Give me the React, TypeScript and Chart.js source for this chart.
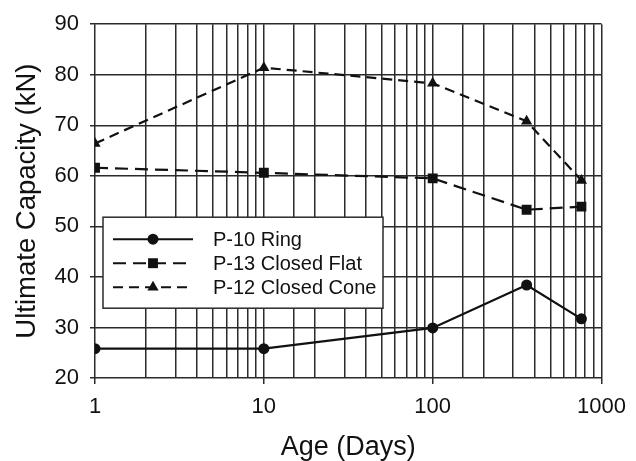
import React, { useEffect, useRef } from "react";
import { Chart, registerables } from "chart.js";

Chart.register(...registerables);

const days = [1, 10, 100, 360, 760];
const ringValues = [25.8, 25.8, 29.9, 38.4, 31.7];
const closedFlatValues = [61.6, 60.6, 59.5, 53.3, 53.9];
const closedConeValues = [66.4, 81.4, 78.3, 70.8, 59.1];
const seriesLabels = ["P-10 Ring", "P-13 Closed Flat", "P-12 Closed Cone"];
const xTitle = "Age (Days)";
const yTitle = "Ultimate Capacity (kN)";

const FONT = "'Liberation Sans', Arial, Helvetica, sans-serif";
const INK = "#111111";
const GRID = "#2b2b2b";

const styles = [
  { dash: [] as number[], point: "circle", radius: 5.5 },
  { dash: [13, 7], point: "rect", radius: 7 },
  { dash: [10, 6], point: "triangle", radius: 6.5 },
];

function toPoints(vals: number[]) {
  return days.map((d, i) => ({ x: d, y: vals[i] }));
}

function drawMarker(ctx: CanvasRenderingContext2D, kind: string, x: number, y: number, r: number) {
  ctx.beginPath();
  if (kind === "circle") {
    ctx.arc(x, y, r, 0, Math.PI * 2);
  } else if (kind === "rect") {
    const s = Math.SQRT1_2 * r;
    ctx.rect(x - s, y - s, 2 * s, 2 * s);
  } else {
    ctx.moveTo(x, y - r);
    ctx.lineTo(x + r * Math.cos(Math.PI / 6), y + r * 0.5);
    ctx.lineTo(x - r * Math.cos(Math.PI / 6), y + r * 0.5);
    ctx.closePath();
  }
  ctx.fill();
}

const boxLegend = {
  id: "boxLegend",
  afterDraw(chart: any) {
    const { ctx, chartArea } = chart;
    const x0 = chartArea.left + 8;
    const y0 = chartArea.top + 193;
    const w = 280;
    const h = 91;
    ctx.save();
    ctx.fillStyle = "#ffffff";
    ctx.fillRect(x0, y0, w, h);
    ctx.strokeStyle = GRID;
    ctx.lineWidth = 1.5;
    ctx.strokeRect(x0, y0, w, h);
    seriesLabels.forEach((label, i) => {
      const y = y0 + 22 + i * 24;
      const st = styles[i];
      ctx.strokeStyle = INK;
      ctx.lineWidth = 2;
      ctx.setLineDash(st.dash);
      ctx.beginPath();
      ctx.moveTo(x0 + 10, y);
      ctx.lineTo(x0 + 90, y);
      ctx.stroke();
      ctx.setLineDash([]);
      ctx.fillStyle = INK;
      drawMarker(ctx, st.point, x0 + 50, y, st.radius);
      ctx.font = `20px ${FONT}`;
      ctx.textAlign = "left";
      ctx.textBaseline = "middle";
      ctx.fillText(label, x0 + 110, y + 1);
    });
    ctx.restore();
  },
};

function isDecade(v: number) {
  const l = Math.log10(v);
  return Math.abs(l - Math.round(l)) < 1e-9;
}

export default function App() {
  const canvasRef = useRef<HTMLCanvasElement | null>(null);

  useEffect(() => {
    document.body.style.margin = "0";
    const canvas = canvasRef.current;
    if (!canvas) return;
    const series = [ringValues, closedFlatValues, closedConeValues];
    const chart = new Chart(canvas, {
      type: "line",
      data: {
        datasets: series.map((vals, i) => ({
          label: seriesLabels[i],
          data: toPoints(vals),
          borderColor: INK,
          backgroundColor: INK,
          borderWidth: 2.2,
          borderDash: styles[i].dash,
          pointStyle: styles[i].point as any,
          pointRadius: styles[i].radius,
          pointBackgroundColor: INK,
          pointBorderColor: INK,
          pointBorderWidth: 0,
          tension: 0,
          fill: false,
        })),
      },
      options: {
        animation: false,
        responsive: false,
        events: [],
        layout: { padding: { top: 24, right: 33, left: 0, bottom: 0 } },
        plugins: {
          legend: { display: false },
          tooltip: { enabled: false },
        },
        scales: {
          x: {
            type: "logarithmic",
            min: 1,
            max: 1000,
            border: { display: false },
            grid: {
              color: GRID,
              lineWidth: 1.5,
              tickLength: 6,
              tickColor: (ctx: any) => (ctx.tick && isDecade(ctx.tick.value) ? GRID : "rgba(0,0,0,0)"),
            },
            ticks: {
              color: INK,
              font: { family: FONT, size: 22 },
              padding: 10,
              autoSkip: false,
              maxRotation: 0,
              callback: (v: any) => (isDecade(Number(v)) ? String(Number(v)) : ""),
            },
            title: {
              display: true,
              text: xTitle,
              color: INK,
              font: { family: FONT, size: 27, lineHeight: 1 },
              padding: { top: 0, bottom: 0 },
            },
            afterFit: (scale: any) => {
              scale.height = 83;
            },
          },
          y: {
            type: "linear",
            min: 20,
            max: 90,
            border: { display: false },
            grid: {
              color: GRID,
              lineWidth: 1.5,
              tickLength: 5,
              tickColor: GRID,
            },
            ticks: {
              stepSize: 10,
              color: INK,
              font: { family: FONT, size: 22 },
              padding: 11,
            },
            title: {
              display: true,
              text: yTitle,
              color: INK,
              font: { family: FONT, size: 27.5, lineHeight: 1 },
              padding: { top: 14, bottom: 0 },
            },
            afterFit: (scale: any) => {
              scale.width = 95;
            },
          },
        },
      } as any,
      plugins: [boxLegend],
    });
    return () => chart.destroy();
  }, []);

  return (
    <div style={{ position: "absolute", left: 0, top: 0, width: 636, height: 461, background: "#ffffff" }}>
      <canvas ref={canvasRef} width={636} height={461} style={{ width: 636, height: 461, display: "block" }} />
    </div>
  );
}
